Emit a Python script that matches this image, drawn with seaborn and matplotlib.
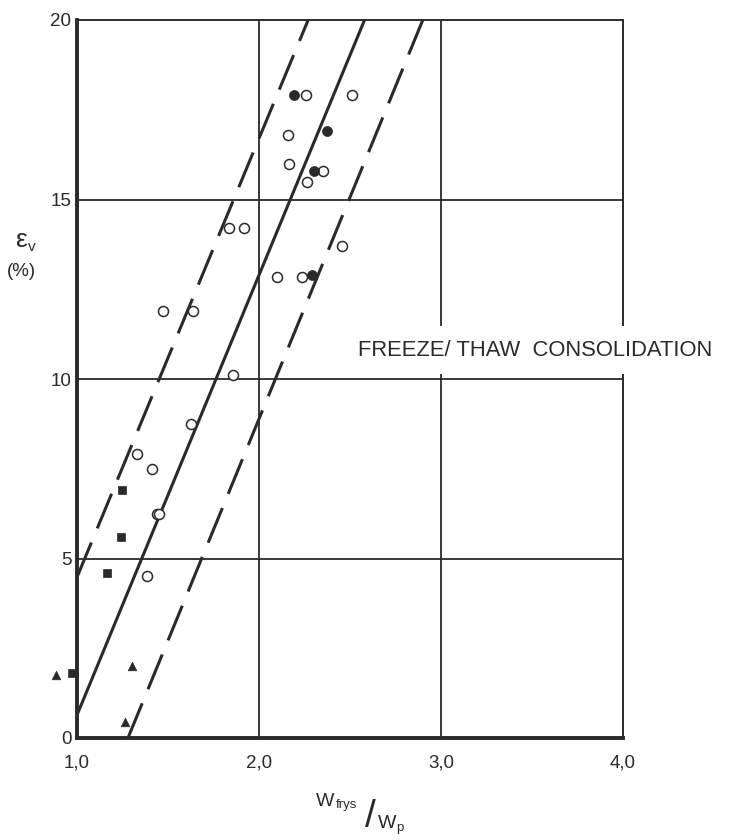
import matplotlib
matplotlib.use("Agg")
import matplotlib.pyplot as plt
import seaborn as sns
import pandas as pd

# --- measured data -------------------------------------------------------
open_x = [2.26, 2.51, 2.16, 2.165, 2.353, 2.265, 1.837, 1.916, 2.454, 2.097,
          2.238, 1.474, 1.636, 1.855, 1.628, 1.331, 1.41, 1.438, 1.452, 1.383]
open_y = [17.9, 17.9, 16.8, 16.0, 15.8, 15.5, 14.2, 14.2, 13.7, 12.85,
          12.85, 11.9, 11.9, 10.1, 8.75, 7.9, 7.5, 6.25, 6.25, 4.5]

dot_x = [2.194, 2.372, 2.30, 2.293]
dot_y = [17.9, 16.9, 15.8, 12.9]

square_x = [1.245, 1.240, 1.163, 0.971]
square_y = [6.9, 5.6, 4.6, 1.8]

triangle_x = [0.885, 1.30, 1.264]
triangle_y = [1.75, 2.0, 0.45]

# regression line and its scatter band
trend_x = [1.0, 2.58]
trend_y = [0.64, 20.0]
upper_x = [1.0, 2.27]
upper_y = [4.48, 20.0]
lower_x = [1.28, 2.90]
lower_y = [0.0, 20.0]

x_ticks = [1.0, 2.0, 3.0, 4.0]
x_tick_labels = ["1,0", "2,0", "3,0", "4,0"]
y_ticks = [0, 5, 10, 15, 20]
y_tick_labels = ["0", "5", "10", "15", "20"]

# --- styling -------------------------------------------------------------
sns.set_theme(style="white")
plt.rcParams["font.family"] = ["Liberation Sans", "DejaVu Sans"]
plt.rcParams["lines.scale_dashes"] = False
ink = "#2a2a2a"

fig = plt.figure(figsize=(7.3, 8.4), dpi=100)
ax = fig.add_axes([77 / 730, 1 - 738 / 840, (623 - 77) / 730, (738 - 20) / 840])
ax.set_facecolor("white")

# grid
for gx in [2.0, 3.0]:
    ax.axvline(gx, color=ink, lw=1.3, zorder=1)
for gy in [5, 10, 15]:
    ax.axhline(gy, color=ink, lw=1.3, zorder=1)

# lines
sns.lineplot(x=trend_x, y=trend_y, ax=ax, color=ink, linewidth=2.2, zorder=2)
for bx, by in [(upper_x, upper_y), (lower_x, lower_y)]:
    sns.lineplot(x=bx, y=by, ax=ax, color=ink, linewidth=2.2, zorder=2)
    ax.lines[-1].set_dashes([27, 11])
    ax.lines[-1].set_dash_capstyle("butt")

# points
pts = pd.concat([
    pd.DataFrame({"x": open_x, "y": open_y, "kind": "open"}),
    pd.DataFrame({"x": dot_x, "y": dot_y, "kind": "dot"}),
    pd.DataFrame({"x": square_x, "y": square_y, "kind": "square"}),
    pd.DataFrame({"x": triangle_x, "y": triangle_y, "kind": "triangle"}),
])

sns.scatterplot(data=pts[pts.kind == "open"], x="x", y="y", ax=ax, marker="o",
                s=52, facecolor="white", edgecolor=ink, linewidth=1.1,
                zorder=4, clip_on=False)
sns.scatterplot(data=pts[pts.kind == "dot"], x="x", y="y", ax=ax, marker="o",
                s=52, color=ink, edgecolor=ink, linewidth=0.5, zorder=4,
                clip_on=False)
sns.scatterplot(data=pts[pts.kind == "square"], x="x", y="y", ax=ax, marker="s",
                s=34, color=ink, edgecolor=ink, linewidth=0.5, zorder=4,
                clip_on=False)
sns.scatterplot(data=pts[pts.kind == "triangle"], x="x", y="y", ax=ax,
                marker="^", s=38, color=ink, edgecolor=ink, linewidth=0.5,
                zorder=4, clip_on=False)

ax.set_xlim(1.0, 4.0)
ax.set_ylim(0, 20)
ax.set_xticks(x_ticks)
ax.set_xticklabels(x_tick_labels, fontsize=13.5, color=ink)
ax.set_yticks(y_ticks)
ax.set_yticklabels(y_tick_labels, fontsize=13.5, color=ink)
ax.tick_params(axis="x", length=0, pad=12)
ax.tick_params(axis="y", length=0, pad=4)
ax.set_xlabel("")
ax.set_ylabel("")

for side in ["left", "bottom"]:
    ax.spines[side].set_linewidth(2.8)
    ax.spines[side].set_color(ink)
for side in ["top", "right"]:
    ax.spines[side].set_linewidth(1.4)
    ax.spines[side].set_color(ink)
    ax.spines[side].set_visible(True)

# annotation with a white backing that breaks the frame
ax.text(2.545, 10.8, "FREEZE/ THAW  CONSOLIDATION", fontsize=15.8, color=ink,
        ha="left", va="center", zorder=5, clip_on=False,
        bbox=dict(boxstyle="square,pad=0.62", facecolor="white",
                  edgecolor="none"))

# y-axis label
fig.text(15 / 730, 1 - 247 / 840, "ε", fontsize=19, color=ink, ha="left",
         va="baseline")
fig.text(28 / 730, 1 - 251 / 840, "v", fontsize=11, color=ink, ha="left",
         va="baseline")
fig.text(21 / 730, 1 - 271 / 840, "(%)", fontsize=13.5, color=ink,
         ha="center", va="center")

# x-axis label written as a slanted fraction
fig.text(316 / 730, 1 - 806 / 840, "W", fontsize=14, color=ink, ha="left",
         va="baseline")
fig.text(336 / 730, 1 - 808 / 840, "frys", fontsize=9.5, color=ink,
         ha="left", va="baseline")
fig.text(370 / 730, 1 - 817 / 840, "/", fontsize=28, color=ink,
         ha="center", va="center", fontweight="light")
fig.text(378 / 730, 1 - 828 / 840, "W", fontsize=14, color=ink, ha="left",
         va="baseline")
fig.text(396 / 730, 1 - 831 / 840, "p", fontsize=9.5, color=ink, ha="left",
         va="baseline")

fig.savefig("out.png", dpi=100, facecolor="white")
